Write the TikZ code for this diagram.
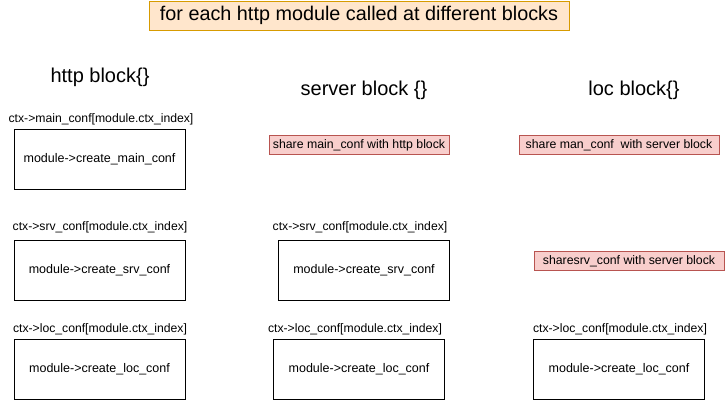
\documentclass[tikz,border=0pt]{standalone}
\usepackage{fontspec}
\setmainfont{Liberation Sans}
\usetikzlibrary{positioning}
\definecolor{peach}{HTML}{FFE6CC}
\definecolor{peachline}{HTML}{D79B00}
\definecolor{pinkfill}{HTML}{F8CECC}
\definecolor{pinkline}{HTML}{B85450}

\begin{document}
\begin{tikzpicture}[x=1pt,y=-1pt,
  every node/.style={font=\fontsize{12.2}{14}\selectfont,inner sep=0pt},
  confbox/.style={draw,line width=0.8pt,minimum width=171pt,minimum height=60pt,
    font=\fontsize{12.5}{14}\selectfont},
  note/.style={draw=pinkline,fill=pinkfill,line width=0.8pt,minimum height=19pt,
    font=\fontsize{12.3}{14}\selectfont},
  head/.style={font=\fontsize{20}{22}\selectfont}]
  \useasboundingbox (0,0) rectangle (725,400);
  % ---- title ---------------------------------------------------------------
  \node[draw=peachline,fill=peach,line width=0.8pt,minimum width=420pt,
    minimum height=29pt,font=\fontsize{19.8}{22}\selectfont]
    (title) at (359,15.5) {for each http module called at different blocks};
  % ---- column heads ----------------------------------------------------------
  \node[head] (httphead) at (100,77) {http block\{\}};
  \node[head] (srvhead) at (364,90) {server block \{\}};
  \node[head] (lochead) at (634,90) {loc block\{\}};
  % ---- http block -------------------------------------------------------------
  \node (mainlbl) at (101,119) {ctx->main\_conf[module.ctx\_index]};
  \node[confbox] (mainconf) at (99.5,159) {module->create\_main\_conf};
  \node (srvlbl) at (100,227) {ctx->srv\_conf[module.ctx\_index]};
  \node[confbox] (srvconf) at (99.5,270) {module->create\_srv\_conf};
  \node (loclbl) at (100,329) {ctx->loc\_conf[module.ctx\_index]};
  \node[confbox] (locconf) at (99.5,369.5) {module->create\_loc\_conf};
  % ---- server block -----------------------------------------------------------
  \node[note,minimum width=180pt] (srvmain) at (359,145) {share main\_conf with http block};
  \node (srvsrvlbl) at (360,227) {ctx->srv\_conf[module.ctx\_index]};
  \node[confbox] (srvsrvconf) at (364,270) {module->create\_srv\_conf};
  \node (srvloclbl) at (355,329) {ctx->loc\_conf[module.ctx\_index]};
  \node[confbox] (srvlocconf) at (359,369.5) {module->create\_loc\_conf};
  % ---- loc block --------------------------------------------------------------
  \node[note,minimum width=200pt] (locmain) at (619,145) {share man\_conf\ \ with server block};
  \node[note,minimum width=190pt] (locsrv) at (629,261) {sharesrv\_conf with server block};
  \node (locloclbl) at (620,329) {ctx->loc\_conf[module.ctx\_index]};
  \node[confbox] (loclocconf) at (619,369.5) {module->create\_loc\_conf};
\end{tikzpicture}
\end{document}
